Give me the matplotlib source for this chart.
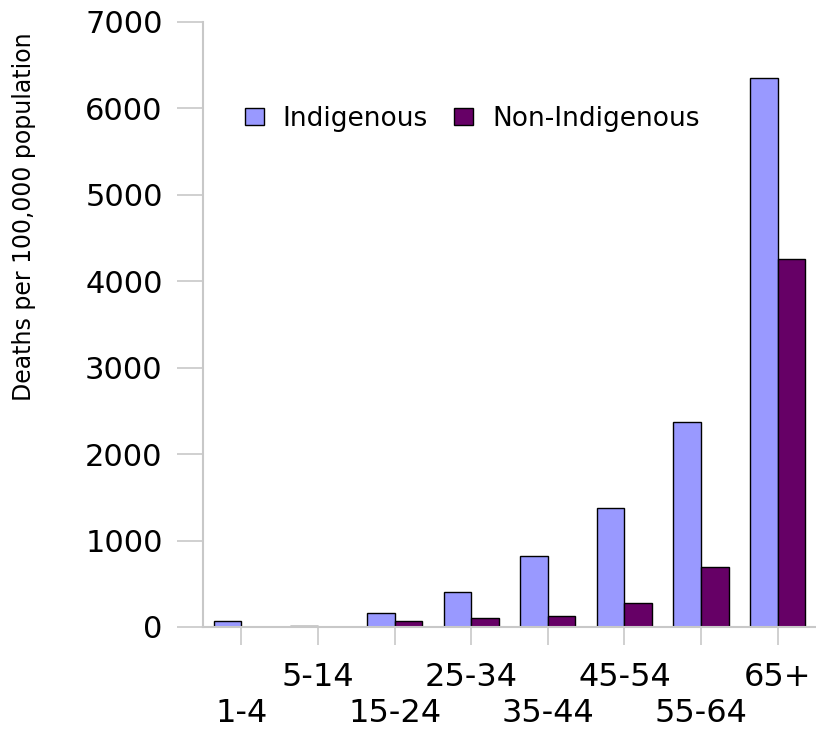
import matplotlib
matplotlib.use("Agg")
import matplotlib.pyplot as plt
import numpy as np

# Data
age_groups = ["1-4", "5-14", "15-24", "25-34", "35-44", "45-54", "55-64", "65+"]
indigenous = [65, 8, 165, 405, 820, 1375, 2370, 6350]
non_indigenous = [5, 4, 65, 100, 130, 280, 690, 4260]
y_ticks = [0, 1000, 2000, 3000, 4000, 5000, 6000, 7000]

plt.rcParams['font.family'] = ['DejaVu Sans']

fig = plt.figure(figsize=(8.16, 7.36), dpi=100)
ax = fig.add_axes([203 / 816, 1 - 627 / 736, 1 - 203 / 816, (627 - 22) / 736])

x = np.arange(len(age_groups))
w = 0.36
ax.bar(x - w / 2, indigenous, w, color="#9999FF", edgecolor="black",
       linewidth=1, label="Indigenous")
ax.bar(x + w / 2, non_indigenous, w, color="#660066", edgecolor="black",
       linewidth=1, label="Non-Indigenous")

ax.set_xlim(-0.5, len(age_groups) - 0.5)
ax.set_ylim(0, 7000)
ax.set_yticks(y_ticks)

# staggered category labels: odd ones on the upper row (major ticks),
# even ones on the lower row (minor ticks)
ax.set_xticks(x[1::2], age_groups[1::2])
ax.set_xticks(x[0::2], age_groups[0::2], minor=True)

grey = "#c8c8c8"
for s in ["top", "right"]:
    ax.spines[s].set_visible(False)
for s in ["left", "bottom"]:
    ax.spines[s].set_color(grey)
    ax.spines[s].set_linewidth(1.5)

ax.tick_params(axis="y", length=19, width=1.2, color=grey, pad=10, labelsize=22)
ax.tick_params(axis="x", which="major", length=13, width=1.2, color=grey,
               pad=12, labelsize=23)
ax.tick_params(axis="x", which="minor", length=13, width=1.2, color=grey,
               pad=38, labelsize=23)

ax.set_ylabel("Deaths per 100,000 population", fontsize=17)
ax.yaxis.set_label_coords(-0.272, 0.678)

leg = ax.legend(loc="center left", bbox_to_anchor=(0.069, 0.84), ncol=2,
                frameon=False, fontsize=19, handlelength=0.7, handleheight=0.65,
                handletextpad=0.72, columnspacing=1.0, borderpad=0, borderaxespad=0)

fig.savefig("out.png", dpi=100)
